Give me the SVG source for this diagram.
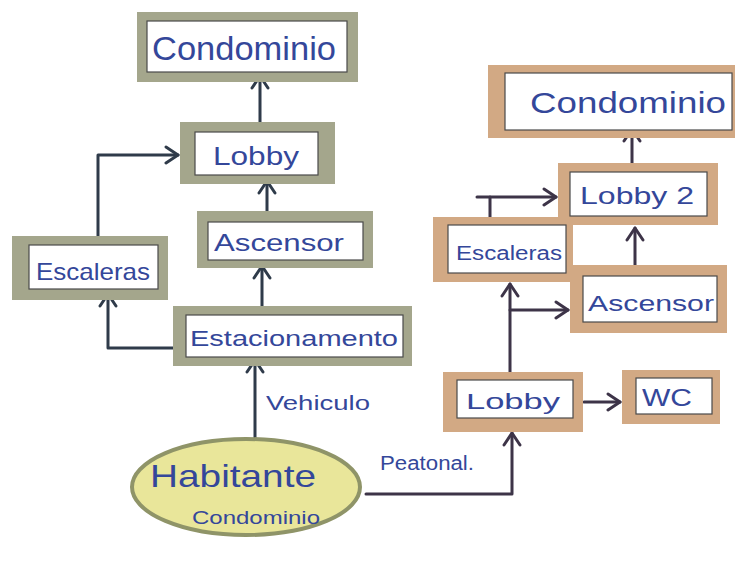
<svg xmlns="http://www.w3.org/2000/svg" width="740" height="563" viewBox="0 0 740 563">
  <defs>
    <style>
      .olive { fill: #a4a68c; }
      .tan { fill: #d2a984; }
      .inner { fill: #ffffff; stroke: #4a4a4a; stroke-width: 1.2; }
      .lbl { font-family: "Liberation Sans", "DejaVu Sans", sans-serif; fill: #34479a; }
      .edgeL { fill: none; stroke: #2f3b4a; stroke-width: 3; stroke-linecap: round; stroke-linejoin: round; }
      .edgeR { fill: none; stroke: #3d3448; stroke-width: 3; stroke-linecap: round; stroke-linejoin: round; }
    </style>
    <marker id="chevL" viewBox="0 0 20 20" refX="18" refY="10" markerWidth="20" markerHeight="20" markerUnits="userSpaceOnUse" orient="auto">
      <path d="M6 2 L18 10 L6 18" fill="none" stroke="#2f3b4a" stroke-width="3" stroke-linecap="round" stroke-linejoin="round"/>
    </marker>
    <marker id="chevR" viewBox="0 0 20 20" refX="18" refY="10" markerWidth="20" markerHeight="20" markerUnits="userSpaceOnUse" orient="auto">
      <path d="M6 2 L18 10 L6 18" fill="none" stroke="#3d3448" stroke-width="3" stroke-linecap="round" stroke-linejoin="round"/>
    </marker>
  </defs>

  <rect x="0" y="0" width="740" height="563" fill="#ffffff"/>

  <!-- connectors -->
  <g id="connectors">
    <path class="edgeL" d="M260 122 L260 76" marker-end="url(#chevL)"/>
    <path class="edgeL" d="M267 211 L267 181" marker-end="url(#chevL)"/>
    <path class="edgeL" d="M262 306 L262 266" marker-end="url(#chevL)"/>
    <path class="edgeL" d="M255 440 L255 360" marker-end="url(#chevL)"/>
    <path class="edgeL" d="M185 348 L108 348 L108 294" marker-end="url(#chevL)"/>
    <path class="edgeL" d="M98 236 L98 155 L178 155" marker-end="url(#chevL)"/>

    <path class="edgeR" d="M632 163 L632 129" marker-end="url(#chevR)"/>
    <path class="edgeR" d="M635 265 L635 228" marker-end="url(#chevR)"/>
    <path class="edgeR" d="M490 217 L490 197"/>
    <path class="edgeR" d="M477 197 L556 197" marker-end="url(#chevR)"/>
    <path class="edgeR" d="M510 372 L510 284" marker-end="url(#chevR)"/>
    <path class="edgeR" d="M510 310 L568 310" marker-end="url(#chevR)"/>
    <path class="edgeR" d="M584 402 L620 402" marker-end="url(#chevR)"/>
    <path class="edgeR" d="M366 494 L512 494 L512 433" marker-end="url(#chevR)"/>
  </g>

  <!-- left building -->
  <g id="condominio-a">
    <rect class="olive" x="137" y="12" width="221" height="70"/>
    <rect class="inner" x="147" y="21" width="200" height="51"/>
    <text class="lbl" x="152" y="60" font-size="34" textLength="184" lengthAdjust="spacingAndGlyphs">Condominio</text>
  </g>
  <g id="lobby-a">
    <rect class="olive" x="180" y="122" width="155" height="62"/>
    <rect class="inner" x="195" y="132" width="123" height="43"/>
    <text class="lbl" x="213" y="165" font-size="26" textLength="86" lengthAdjust="spacingAndGlyphs">Lobby</text>
  </g>
  <g id="ascensor-a">
    <rect class="olive" x="197" y="211" width="176" height="57"/>
    <rect class="inner" x="208" y="222" width="155" height="38"/>
    <text class="lbl" x="214" y="251" font-size="24" textLength="130" lengthAdjust="spacingAndGlyphs">Ascensor</text>
  </g>
  <g id="escaleras-a">
    <rect class="olive" x="12" y="236" width="156" height="64"/>
    <rect class="inner" x="29" y="245" width="129" height="44"/>
    <text class="lbl" x="36" y="280" font-size="24" textLength="114" lengthAdjust="spacingAndGlyphs">Escaleras</text>
  </g>
  <g id="estacionamento">
    <rect class="olive" x="173" y="306" width="239" height="60"/>
    <rect class="inner" x="186" y="315" width="217" height="42"/>
    <text class="lbl" x="190" y="346" font-size="22" textLength="208" lengthAdjust="spacingAndGlyphs">Estacionamento</text>
  </g>
  <g id="vehiculo-label">
    <text class="lbl" x="266" y="410" font-size="20" textLength="104" lengthAdjust="spacingAndGlyphs">Vehiculo</text>
  </g>

  <!-- resident -->
  <g id="habitante">
    <ellipse cx="246" cy="487" rx="114" ry="48" fill="#e9e69a" stroke="#8f9468" stroke-width="4"/>
    <text class="lbl" x="150" y="487" font-size="32" textLength="166" lengthAdjust="spacingAndGlyphs">Habitante</text>
    <text class="lbl" x="192" y="524" font-size="19" textLength="128" lengthAdjust="spacingAndGlyphs">Condominio</text>
  </g>
  <g id="peatonal-label">
    <text class="lbl" x="380" y="470" font-size="20" textLength="94" lengthAdjust="spacingAndGlyphs">Peatonal.</text>
  </g>

  <!-- right building -->
  <g id="condominio-b">
    <rect class="tan" x="488" y="65" width="247" height="73"/>
    <rect class="inner" x="505" y="73" width="227" height="57"/>
    <text class="lbl" x="530" y="113" font-size="30" textLength="196" lengthAdjust="spacingAndGlyphs">Condominio</text>
  </g>
  <g id="lobby-2">
    <rect class="tan" x="558" y="163" width="160" height="62"/>
    <rect class="inner" x="570" y="172" width="137" height="44"/>
    <text class="lbl" x="580" y="204" font-size="24" textLength="114" lengthAdjust="spacingAndGlyphs">Lobby 2</text>
  </g>
  <g id="escaleras-b">
    <rect class="tan" x="433" y="217" width="140" height="65"/>
    <rect class="inner" x="448" y="225" width="118" height="48"/>
    <text class="lbl" x="456" y="260" font-size="20" textLength="106" lengthAdjust="spacingAndGlyphs">Escaleras</text>
  </g>
  <g id="ascensor-b">
    <rect class="tan" x="570" y="265" width="157" height="68"/>
    <rect class="inner" x="583" y="276" width="134" height="46"/>
    <text class="lbl" x="588" y="311" font-size="22" textLength="126" lengthAdjust="spacingAndGlyphs">Ascensor</text>
  </g>
  <g id="lobby-b">
    <rect class="tan" x="443" y="372" width="140" height="60"/>
    <rect class="inner" x="457" y="380" width="116" height="38"/>
    <text class="lbl" x="466" y="409" font-size="22" textLength="94" lengthAdjust="spacingAndGlyphs">Lobby</text>
  </g>
  <g id="wc">
    <rect class="tan" x="622" y="370" width="98" height="54"/>
    <rect class="inner" x="636" y="378" width="76" height="36"/>
    <text class="lbl" x="642" y="406" font-size="24" textLength="50" lengthAdjust="spacingAndGlyphs">WC</text>
  </g>
</svg>
